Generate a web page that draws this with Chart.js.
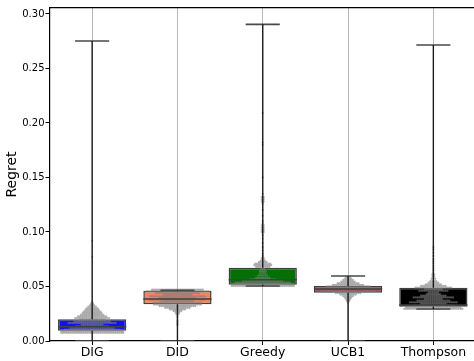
<!DOCTYPE html>
<html>
<head>
<meta charset="utf-8">
<script src="https://cdn.jsdelivr.net/npm/chart.js@4"></script>
<style>
html,body{margin:0;padding:0;background:#fff;overflow:hidden;}
canvas{display:block;}
</style>
</head>
<body>
<canvas id="c" width="480" height="361"></canvas>
<script>
// ---- data ----
const categories = ['DIG', 'DID', 'Greedy', 'UCB1', 'Thompson'];
const q1 = [0.0095, 0.0337, 0.0516, 0.0443, 0.0315];
const q3 = [0.0199, 0.0461, 0.0672, 0.0505, 0.0489];
const medians = [0.0130, 0.0385, 0.0562, 0.0477, 0.0330];
const whiskerLow = [0.0, 0.0, 0.0505, 0.0, 0.0294];
const whiskerHigh = [0.2752, 0.0465, 0.2905, 0.0596, 0.2716];
const boxColors = ['#1010f0', '#f08562', '#047004', '#b83232', '#000000'];
const yTickValues = [0, 0.05, 0.10, 0.15, 0.20, 0.25, 0.30];

// swarm rows: [value, number of points side by side]
const digSwarm = [[0.0075,34],[0.009,34],[0.0105,30],[0.012,24],[0.0135,18],[0.015,12],[0.0165,26],[0.018,20],[0.0195,14],
  [0.021,19],[0.0225,16],[0.024,13],[0.0255,11],[0.027,10],[0.0285,8],[0.030,7],[0.0315,5],[0.033,3],[0.0345,2],[0.036,1],
  [0.077,1],[0.092,1]];
const didSwarm = [[0.047,28],[0.0455,34],[0.044,24],[0.0425,16],[0.041,30],[0.0395,20],[0.038,30],[0.0365,18],[0.035,26],
  [0.0335,26],[0.032,20],[0.0305,14],[0.029,9],[0.0275,5],[0.026,3],[0.0245,2],[0.022,1],[0.019,1],[0.0175,1],[0.016,1],[0.0147,1]];
const greedySwarm = [[0.0505,34],[0.052,34],[0.0535,30],[0.055,22],[0.0565,14],[0.058,8],[0.060,6],[0.062,4],[0.064,4],[0.066,3],
  [0.068,8],[0.0695,10],[0.071,9],[0.0725,5],[0.074,3],[0.076,2],[0.078,1],[0.080,1],[0.083,1],[0.086,1],[0.090,1],[0.094,1],
  [0.097,1],[0.100,2],[0.102,2],[0.104,2],[0.106,2],[0.108,1],[0.110,1],[0.115,1],[0.120,1],[0.126,1],[0.128,2],[0.130,2],
  [0.132,2],[0.135,1],[0.150,1],[0.180,1],[0.182,1],[0.209,1]];
const ucbSwarm = [[0.059,3],[0.0575,4],[0.056,6],[0.0545,8],[0.053,12],[0.0515,17],[0.050,24],[0.0485,34],[0.047,34],
  [0.0455,30],[0.044,14],[0.0425,9],[0.041,6],[0.0395,4],[0.038,3],[0.0365,2],[0.035,1]];
const thompsonSwarm = [[0.0295,32],[0.031,30],[0.0325,22],[0.034,14],[0.0355,26],[0.037,18],[0.0385,10],[0.040,22],[0.0415,14],
  [0.043,8],[0.0445,6],[0.046,16],[0.0475,10],[0.049,20],[0.0505,14],[0.052,9],[0.0535,6],[0.055,4],[0.057,3],[0.059,2],
  [0.061,2],[0.063,1],[0.065,1],[0.067,1],[0.069,1],[0.071,1],[0.073,1],[0.075,1],[0.078,1],[0.081,1],[0.084,1],[0.086,1]];
const swarms = [digSwarm, didSwarm, greedySwarm, ucbSwarm, thompsonSwarm];

// ---- build datasets ----
const STEP = 0.022;
const swarmPoints = [];
swarms.forEach((rows, ci) => {
  rows.forEach(([v, n]) => {
    for (let j = 0; j < n; j++) {
      let off = (j - (n - 1) / 2) * STEP;
      if (off > 0.38) off = 0.38; if (off < -0.38) off = -0.38;
      swarmPoints.push({x: ci + off, y: v});
    }
  });
});

const whiskerPts = [], capPts = [], medianPts = [];
categories.forEach((c, i) => {
  whiskerPts.push({x: i, y: q3[i]}, {x: i, y: whiskerHigh[i]}, {x: i, y: null});
  whiskerPts.push({x: i, y: q1[i]}, {x: i, y: whiskerLow[i]}, {x: i, y: null});
  capPts.push({x: i - 0.2, y: whiskerHigh[i]}, {x: i + 0.2, y: whiskerHigh[i]}, {x: i, y: null});
  capPts.push({x: i - 0.2, y: whiskerLow[i]}, {x: i + 0.2, y: whiskerLow[i]}, {x: i, y: null});
  medianPts.push({x: i - 0.4, y: medians[i]}, {x: i + 0.4, y: medians[i]}, {x: i, y: null});
});

const FONT = 'DejaVu Sans';
new Chart(document.getElementById('c'), {
  type: 'bar',
  data: {
    labels: categories,
    datasets: [
      {
        type: 'bar', xAxisID: 'x', order: 4, grouped: false,
        data: categories.map((c, i) => [q1[i], q3[i]]),
        backgroundColor: boxColors, borderColor: '#3f3f3f', borderWidth: 1.5, borderSkipped: false,
        barPercentage: 0.8, categoryPercentage: 1.0
      },
      {
        type: 'scatter', xAxisID: 'x2', order: 3, data: swarmPoints,
        pointRadius: 1.15, pointBorderWidth: 0, backgroundColor: 'rgba(125,125,125,0.6)'
      },
      {
        type: 'line', xAxisID: 'x2', order: 2, data: medianPts, spanGaps: false,
        borderColor: '#3f3f3f', borderWidth: 1.5, pointRadius: 0, fill: false
      },
      {
        type: 'line', xAxisID: 'x2', order: 1, data: capPts, spanGaps: false,
        borderColor: '#4a4a4a', borderWidth: 1.6, pointRadius: 0, fill: false
      },
      {
        type: 'line', xAxisID: 'x2', order: 0, data: whiskerPts, spanGaps: false,
        borderColor: '#1a1a1a', borderWidth: 1.4, pointRadius: 0, fill: false
      }
    ]
  },
  options: {
    responsive: false, animation: false, devicePixelRatio: 1,
    layout: {padding: {top: 8, right: 3, left: 0, bottom: 0}},
    plugins: {legend: {display: false}, tooltip: {enabled: false}},
    scales: {
      x: {
        type: 'category', position: 'bottom', offset: true,
        grid: {display: true, offset: false, drawOnChartArea: true, color: '#b8b8b8', lineWidth: 1,
               drawTicks: true, tickLength: 4, tickColor: '#000', tickWidth: 1},
        border: {display: true, color: '#000', width: 1.2},
        ticks: {color: '#000', padding: 0, font: {family: FONT, size: 12.5}, maxRotation: 0},
        afterFit: s => { s.height = 20; }
      },
      x2: {
        type: 'linear', position: 'top', min: -0.5, max: 4.5, offset: false,
        grid: {display: false, offset: false}, ticks: {display: false},
        border: {display: true, color: '#000', width: 1.2},
        afterFit: s => { s.height = 0; }
      },
      y: {
        type: 'linear', position: 'left', min: 0, max: 0.3055,
        afterBuildTicks: s => { s.ticks = yTickValues.map(v => ({value: v})); },
        grid: {display: true, drawOnChartArea: false, drawTicks: true, tickLength: 4, tickColor: '#000', tickWidth: 1},
        border: {display: true, color: '#000', width: 1.2},
        ticks: {color: '#000', padding: 1, font: {family: FONT, size: 10}, callback: v => Number(v).toFixed(2)},
        title: {display: true, text: 'Regret', color: '#000', font: {family: FONT, size: 14}, padding: {top: 4, bottom: 0}},
        afterFit: s => { s.width = 49.5; }
      }
    }
  }
});
</script>
</body>
</html>
